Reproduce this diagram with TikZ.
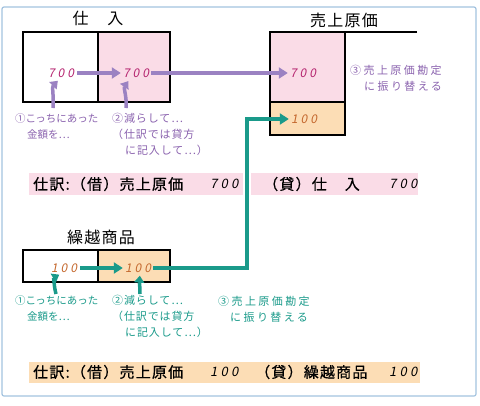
\documentclass[tikz,border=0pt]{standalone}
\usepackage{fontspec}
\usetikzlibrary{arrows.meta}
\newfontfamily\jp{Noto Sans CJK JP}
\newfontfamily\jpnote[LetterSpace=8]{Noto Sans CJK JP}
\newfontfamily\jpwide[LetterSpace=22]{Noto Sans CJK JP}
\newfontfamily\jpbig[LetterSpace=8,FakeBold=0.6]{Noto Sans CJK JP}
\newfontfamily\jpnum[FakeSlant=0.2,LetterSpace=25]{Noto Sans CJK JP}
\definecolor{pinkbg}{HTML}{FADCE7}
\definecolor{orangebg}{HTML}{FCDDB5}
\definecolor{purp}{HTML}{9B82C2}
\definecolor{purptext}{HTML}{8A62AE}
\definecolor{mag}{HTML}{B5246F}
\definecolor{brn}{HTML}{C4682E}
\definecolor{tealc}{HTML}{1A9A8A}
\definecolor{frameblue}{HTML}{A3C3DF}
\tikzset{
	acct/.style={draw=black,line width=2pt},
	title/.style={font=\jpnote\fontsize{16}{16}\selectfont,inner sep=0},
	amt/.style={font=\jpnum\fontsize{12}{12}\selectfont,inner sep=1pt},
	note/.style={font=\jpnote\fontsize{11}{16}\selectfont,align=left,anchor=north west,inner sep=0},
	jrnl/.style={font=\jpbig\fontsize{15}{15}\selectfont,anchor=west,inner sep=0},
	jnum/.style={font=\jpnum\fontsize{13}{13}\selectfont,anchor=west,inner sep=0},
	flow/.style={line width=3.5pt,-{Triangle[length=9pt,width=11pt]}},
	lift/.style={line width=3.5pt,-{Triangle[length=7pt,width=10pt]}}
}
\begin{document}
\begin{tikzpicture}[x=1pt,y=-1pt]
	\useasboundingbox (0,0) rectangle (480,405);
	\draw[frameblue,line width=1.2pt,rounded corners=2pt] (2,7) rectangle (476,396);
	% journal bands
	\fill[pinkbg] (29,173) rectangle (418,195);
	\fill[orangebg] (29,362) rectangle (420,383);
	% accounts
	\fill[pinkbg] (98,32) rectangle (170,102);
	\draw[acct] (23,32) rectangle (170,102);
	\draw[acct] (98,32) -- (98,102);
	\fill[pinkbg] (270,32) rectangle (345,102);
	\fill[orangebg] (270,102) rectangle (345,135);
	\draw[acct] (417,32) -- (270,32) -- (270,135) -- (345,135) -- (345,32);
	\draw[acct] (270,102) -- (345,102);
	\fill[orangebg] (98,250) rectangle (170,282);
	\draw[acct] (23,250) rectangle (170,282);
	\draw[acct] (98,250) -- (98,282);
	\node[title] (t1) at (98,18) {仕　入};
	\node[title] (t2) at (344,20) {売上原価};
	\node[title] (t3) at (101,237) {繰越商品};
	% amounts
	\node[amt,mag] (n700a) at (61,73) {700};
	\node[amt,mag] (n700b) at (136,73) {700};
	\node[amt,mag] (n700c) at (303,73) {700};
	\node[amt,brn] (n100c) at (304,119) {100};
	\node[amt,brn] (n100a) at (64,268) {100};
	\node[amt,brn] (n100b) at (138,268) {100};
	% connectors
	\draw[flow,purp,shorten <=2pt,shorten >=1pt] (n700a) -- (n700b);
	\draw[flow,purp,shorten <=1pt,shorten >=1pt] (n700b) -- (n700c);
	\coordinate (turn) at (247,119);
	\fill[white] (243,172) rectangle (251,196);
	\draw[flow,tealc,shorten <=1pt,shorten >=1pt] (n100b) -| (turn) -- (n100c);
	\draw[flow,tealc,shorten <=2pt,shorten >=1pt] (n100a) -- (n100b);
	\coordinate (p1) at (53,108);
	\coordinate (p2) at (126,108);
	\coordinate (p3) at (56,294);
	\coordinate (p4) at (140,294);
	\draw[lift,purp,shorten >=3pt] (p1) to[out=85,in=-135] ([xshift=-1pt]n700a.south);
	\draw[lift,purp,shorten >=3pt] (p2) to[out=85,in=-125] ([xshift=-6pt]n700b.south);
	\draw[lift,tealc,shorten >=2pt] (p3) to[out=105,in=-150] ([xshift=-3pt]n100a.south);
	\draw[lift,tealc,shorten >=2pt] (p4) to[out=90,in=-95] ([xshift=2pt]n100b.south);
	% notes
	\node[note,purptext,font=\jp\fontsize{10.5}{16}\selectfont] (m1) at (15,113) {①こっちにあった\\\hspace{12pt}金額を…};
	\node[note,purptext] (m2) at (112,113) {②減らして…\\（仕訳では貸方\\\hspace{13pt}に記入して…）};
	\node[note,purptext,font=\jpwide\fontsize{11}{16}\selectfont] (m3) at (350,65) {③売上原価勘定\\\hspace{14pt}に振り替える};
	\node[note,tealc,font=\jp\fontsize{10.5}{16}\selectfont] (m4) at (15,295) {①こっちにあった\\\hspace{12pt}金額を…};
	\node[note,tealc] (m5) at (112,295) {②減らして…\\（仕訳では貸方\\\hspace{13pt}に記入して…）};
	\node[note,tealc,font=\jpwide\fontsize{11}{16}\selectfont] (m6) at (218,296) {③売上原価勘定\\\hspace{12pt}に振り替える};
	% journal entries
	\node[jrnl] (j1) at (33,184) {仕訳:（借）売上原価};
	\node[jnum] (j1a) at (210,184) {700};
	\node[jrnl] (j1b) at (263,184) {（貸）仕\hspace{18pt}入};
	\node[jnum] (j1c) at (389,184) {700};
	\node[jrnl] (j2) at (33,372) {仕訳:（借）売上原価};
	\node[jnum] (j2a) at (210,372) {100};
	\node[jrnl] (j2b) at (255,372) {（貸）繰越商品};
	\node[jnum] (j2c) at (389,372) {100};
\end{tikzpicture}
\end{document}
